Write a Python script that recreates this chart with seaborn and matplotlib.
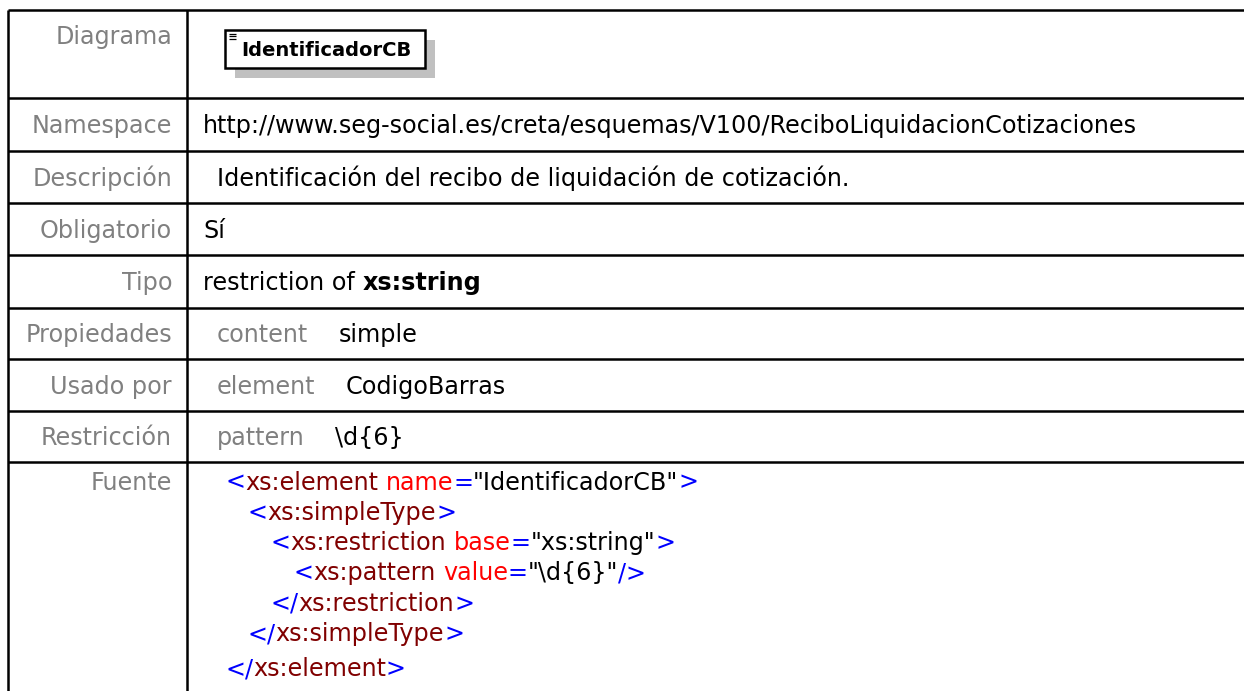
import matplotlib
matplotlib.use('Agg')
import matplotlib.pyplot as plt
import seaborn as sns
from matplotlib.patches import Rectangle

# table content
row_labels = ['Diagrama', 'Namespace', 'Descripción', 'Obligatorio', 'Tipo',
              'Propiedades', 'Usado por', 'Restricción', 'Fuente']
diagram_name = 'IdentificadorCB'
namespace = 'http://www.seg-social.es/creta/esquemas/V100/ReciboLiquidacionCotizaciones'
descripcion = 'Identificación del recibo de liquidación de cotización.'
obligatorio = 'Sí'
tipo_prefix = 'restriction of '
tipo_base = 'xs:string'
prop_keys = ['content', 'element', 'pattern']
prop_values = ['simple', 'CodigoBarras', '\\d{6}']

# xml source, tokens: p = punctuation, e = element, a = attribute, v = value
source_lines = [
    [('<', 'p'), ('xs:element ', 'e'), ('name', 'a'), ('=', 'p'), ('"IdentificadorCB"', 'v'), ('>', 'p')],
    [('<', 'p'), ('xs:simpleType', 'e'), ('>', 'p')],
    [('<', 'p'), ('xs:restriction ', 'e'), ('base', 'a'), ('=', 'p'), ('"xs:string"', 'v'), ('>', 'p')],
    [('<', 'p'), ('xs:pattern ', 'e'), ('value', 'a'), ('=', 'p'), ('"\\d{6}"', 'v'), ('/>', 'p')],
    [('</', 'p'), ('xs:restriction', 'e'), ('>', 'p')],
    [('</', 'p'), ('xs:simpleType', 'e'), ('>', 'p')],
    [('</', 'p'), ('xs:element', 'e'), ('>', 'p')],
]
source_indent = [0, 1, 2, 3, 2, 1, 0]
token_colors = {'p': '#0000FF', 'e': '#800000', 'a': '#FF0000', 'v': '#000000'}

# layout (pixels)
W, H = 1244, 691
row_lines = [10, 98, 151, 203, 255, 308, 359, 411, 462]
left_x, split_x = 8, 187
label_x = 172
value_x, sub_x = 203, 217
fs = 17.2
gray = '#808080'
cap_half = 8.5

sns.set_theme(style='white')
plt.rcParams['font.family'] = ['DejaVu Sans']

fig = plt.figure(figsize=(W / 100, H / 100), dpi=100)
ax = fig.add_axes([0, 0, 1, 1])
ax.set_xlim(0, W)
ax.set_ylim(H, 0)
ax.axis('off')
renderer = fig.canvas.get_renderer()

def width_of(s, **kw):
    t = ax.text(0, 0, s, fontsize=fs, **kw)
    w = t.get_window_extent(renderer).width
    t.remove()
    return w

space_w = width_of('a a') - width_of('aa')

def runs(x, yc, parts):
    # parts: (text, color, weight); draws them one after the other
    for s, c, wgt in parts:
        lead = len(s) - len(s.lstrip(' '))
        trail = len(s) - len(s.rstrip(' '))
        x += lead * space_w
        core = s.strip(' ')
        if core:
            t = ax.text(x, yc + cap_half, core, fontsize=fs, color=c, fontweight=wgt,
                        ha='left', va='baseline')
            x = t.get_window_extent(renderer).x1
        x += trail * space_w
    return x

# grid
ax.hlines(row_lines, left_x, W, color='black', lw=1.8)
ax.vlines([left_x, split_x], row_lines[0], H, color='black', lw=1.8)

# code line positions
code_gap = 30.3
code_y = [481 + i * code_gap for i in range(len(source_lines))]
code_y[-1] += 5

# labels
for i, lab in enumerate(row_labels):
    if i == 0:
        yc = row_lines[0] + 25
    elif i == len(row_labels) - 1:
        yc = code_y[0]
    else:
        yc = (row_lines[i] + row_lines[i + 1]) / 2
    ax.text(label_x, yc + cap_half, lab, fontsize=fs, color=gray, ha='right', va='baseline')

def center(i):
    return (row_lines[i] + row_lines[i + 1]) / 2

# diagram box
bx0, by0, bx1, by1 = 225, 30, 425, 68
ax.add_patch(Rectangle((bx0 + 10, by0 + 10), bx1 - bx0, by1 - by0, color='#c0c0c0', lw=0))
ax.add_patch(Rectangle((bx0, by0), bx1 - bx0, by1 - by0, facecolor='white', edgecolor='black', lw=1.8))
ax.hlines([33.5, 36, 38.5], 229, 236, color='black', lw=0.9)
ax.text((bx0 + bx1) / 2 + 1, (by0 + by1) / 2 + 1, diagram_name, fontsize=14, fontweight='bold',
        ha='center', va='center', color='black')

# simple rows
runs(value_x, center(1), [(namespace, 'black', 'normal')])
runs(sub_x, center(2), [(descripcion, 'black', 'normal')])
runs(value_x, center(3), [(obligatorio, 'black', 'normal')])
runs(value_x, center(4), [(tipo_prefix, 'black', 'normal'), (tipo_base, 'black', 'bold')])

# key / value rows
for k, (key, val) in enumerate(zip(prop_keys, prop_values)):
    yc = center(5 + k)
    end = runs(sub_x, yc, [(key, gray, 'normal')])
    runs(end + 30, yc, [(val, 'black', 'normal')])

# xml source
code_x0, indent_w = 225, 22.7
for line, lvl, yc in zip(source_lines, source_indent, code_y):
    runs(code_x0 + lvl * indent_w, yc, [(s, token_colors[k], 'normal') for s, k in line])

fig.savefig('out.png', dpi=100)
